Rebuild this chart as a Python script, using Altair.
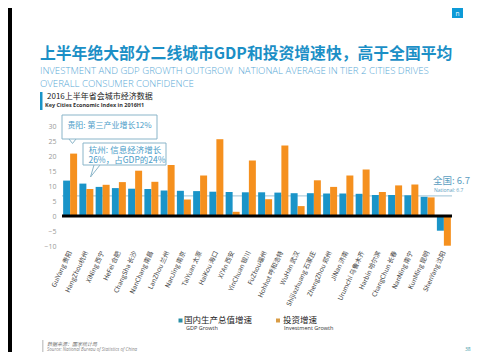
import altair as alt
import pandas as pd

cities = ["GuiYang 贵阳", "HangZhou杭州", "XiNing 西宁", "HeFei 合肥", "ChangSha 长沙",
          "NanChang 南昌", "LanZhou 兰州", "NanJing 南京", "TaiYuan 太原", "HaiKou 海口",
          "Xi'An 西安", "YinChuan 银川", "FuZhou福州", "Hohhot 呼和浩特", "WuHan 武汉",
          "Shijiazhuang 石家庄", "ZhengZhou 郑州", "JiNan 济南", "Urumchi 乌鲁木齐",
          "Harbin 哈尔滨", "ChangChun 长春", "NanNing 南宁", "KunMing 昆明", "ShenYang 沈阳"]
gdp = [11.8, 10.8, 9.7, 9.3, 9.1, 9.0, 8.5, 8.4, 8.3, 8.1, 8.0, 7.9, 7.9, 7.8, 7.6,
       7.6, 7.5, 7.5, 7.4, 7.0, 7.0, 6.9, 6.4, -4.9]
invest = [20.8, 9.0, 10.4, 11.3, 15.1, 11.4, 17.0, 5.5, 13.5, 25.6, 1.4, 18.5, 5.6, 23.5, 3.3,
          11.9, 9.7, 13.5, 15.5, 8.0, 10.2, 10.5, 6.2, -9.9]
series = ["GDP", "Investment"]
national = 6.7
y_ticks = [-10, -5, 0, 5, 10, 15, 20, 25, 30]

title_cn = "上半年绝大部分二线城市GDP和投资增速快，高于全国平均"
subtitle_1 = "INVESTMENT AND GDP GROWTH OUTGROW\u00a0 NATIONAL AVERAGE IN TIER 2 CITIES DRIVES"
subtitle_2 = "OVERALL CONSUMER CONFIDENCE"
section_cn = "2016上半年省会城市经济数据"
section_en = "Key Cities Economic Index in 2016H1"
note_1 = "贵阳: 第三产业增长12%"
note_2a = "杭州: 信息经济增长"
note_2b = "26%，占GDP的24%"
nat_cn = "全国: 6.7"
nat_en = "National: 6.7"
leg_1_cn, leg_1_en = "国内生产总值增速", "GDP Growth"
leg_2_cn, leg_2_en = "投资增速", "Investment Growth"
src_cn = "数据来源：国家统计局"
src_en = "Source: National Bureau of Statistics of China"
page_no = "38"

BLUE = "#1a94c8"
ORANGE = "#f5901e"

rows = []
for c, g, i in zip(cities, gdp, invest):
    rows.append({"city": c, "series": "GDP", "value": g})
    rows.append({"city": c, "series": "Investment", "value": i})
df = pd.DataFrame(rows)

# plot origin sits at page (62,126)
def P(x, y):
    return x - 62, y - 126

one = lambda t="": pd.DataFrame({"t": [t]})

def txt(t, x, y, size, color, weight="normal", align="left", font="Noto Sans CJK SC", style="normal"):
    px, py = P(x, y)
    return alt.Chart(one(t)).mark_text(
        align=align, baseline="middle", fontSize=size, color=color, fontWeight=weight,
        font=font, fontStyle=style
    ).encode(x=alt.value(px), y=alt.value(py), text="t:N")

def rect(x1, y1, x2, y2, fill, stroke=None, sw=1):
    a, b = P(x1, y1)
    c, d = P(x2, y2)
    kw = dict(fill=fill)
    if stroke:
        kw.update(stroke=stroke, strokeWidth=sw)
    return alt.Chart(one()).mark_rect(**kw).encode(
        x=alt.value(a), x2=alt.value(c), y=alt.value(b), y2=alt.value(d))

def seg(x1, y1, x2, y2, color, sw=1):
    a, b = P(x1, y1)
    c, d = P(x2, y2)
    return alt.Chart(one()).mark_rule(color=color, strokeWidth=sw).encode(
        x=alt.value(a), x2=alt.value(c), y=alt.value(b), y2=alt.value(d))

yscale = alt.Scale(domain=[-10, 30], nice=False)
yaxis = alt.Axis(title=None, values=y_ticks, grid=False, domain=False, ticks=False,
                 labelColor="#999", labelFontSize=7, labelPadding=6,
                 labelOverlap=False, labelFont="Open Sans")

nat_line = alt.Chart(one()).mark_rule(color="#9cc3d5", strokeWidth=1).encode(
    y=alt.YDatum(national, type="quantitative", scale=yscale, axis=yaxis))

bars = alt.Chart(df).mark_bar().encode(
    x=alt.X("city:N", sort=cities,
            scale=alt.Scale(paddingInner=0.14, paddingOuter=0.07),
            axis=alt.Axis(title=None, domain=False, ticks=False, labelAngle=295,
                          labelAlign="right", labelBaseline="middle", labelFontSize=6.5,
                          labelColor="#444", labelPadding=5, labelFont="Noto Sans CJK SC")),
    xOffset=alt.XOffset("series:N", sort=series),
    y=alt.Y("value:Q", scale=yscale, axis=yaxis),
    color=alt.Color("series:N", scale=alt.Scale(domain=series, range=[BLUE, ORANGE]), legend=None),
)

zero = alt.Chart(one()).mark_rule(color="black", strokeWidth=3).encode(
    y=alt.YDatum(0, type="quantitative", scale=yscale, axis=yaxis))

layers = [
    rect(8, 8, 12, 352, "#000000"),
    nat_line, bars, zero,
    # header
    txt(title_cn, 40, 54, 15.8, "#1b8fc6", weight="bold"),
    txt(subtitle_1, 40, 71, 9.6, "#5aa9d6", font="Open Sans", weight=300),
    txt(subtitle_2, 40, 84, 9.6, "#5aa9d6", font="Open Sans", weight=300),
    rect(40, 92, 42.5, 110, BLUE),
    txt(section_cn, 47, 96.5, 8, "#222"),
    txt(section_en, 45, 105, 5.5, "#333", font="Open Sans", weight="bold"),
    # annotations
    rect(62, 115, 157, 139, "white", "#8ab5c9"),
    seg(69, 139, 72.5, 143.5, "#8ab5c9"), seg(76, 139, 72.5, 143.5, "#8ab5c9"),
    txt(note_1, 109.5, 126, 8, "#4a9cc8", align="center"),
    rect(83, 143, 166, 165, "white", "#8ab5c9"),
    seg(94, 165, 90.5, 177, "#8ab5c9"), seg(100, 165, 90.5, 177, "#8ab5c9"),
    txt(note_2a, 125, 149.5, 8.5, "#4a9cc8", align="center"),
    txt(note_2b, 127, 160, 8.5, "#4a9cc8", align="center"),
    txt(nat_cn, 433, 180.5, 9.5, "#5b9dc0"),
    txt(nat_en, 434, 189.7, 5, "#5b9dc0", font="Open Sans"),
    # legend
    rect(178.5, 318.5, 182.5, 322.5, "#2a8fa6"),
    txt(leg_1_cn, 184, 320, 8.5, "#222"),
    txt(leg_1_en, 186, 328, 5.5, "#333", font="Open Sans"),
    rect(276, 318.5, 280, 322.5, "#d99c45"),
    txt(leg_2_cn, 283, 320, 8.5, "#222"),
    txt(leg_2_en, 284, 328, 5.5, "#333", font="Open Sans"),
    # footer
    rect(42, 340, 43.5, 353, "#cccccc"),
    txt(src_cn, 47, 344, 5, "#777", style="italic"),
    txt(src_en, 47, 349.5, 4.5, "#888", font="Open Sans", style="italic"),
    txt(page_no, 465, 349, 5, "#3a9aa8", font="Open Sans"),
    # logo
    rect(452, 8, 463, 18, "#0d9ad7"),
    txt("n", 457.5, 13.5, 6.5, "white", align="center", font="Open Sans"),
]

chart = alt.layer(*layers).properties(
    width=390, height=120,
    autosize=alt.AutoSizeParams(type="none"),
    padding={"left": 54, "top": 118, "right": 20, "bottom": 106},
    background="white",
).configure_view(stroke=None)

chart.save("out.html", embed_options={"renderer": "svg", "actions": False})
